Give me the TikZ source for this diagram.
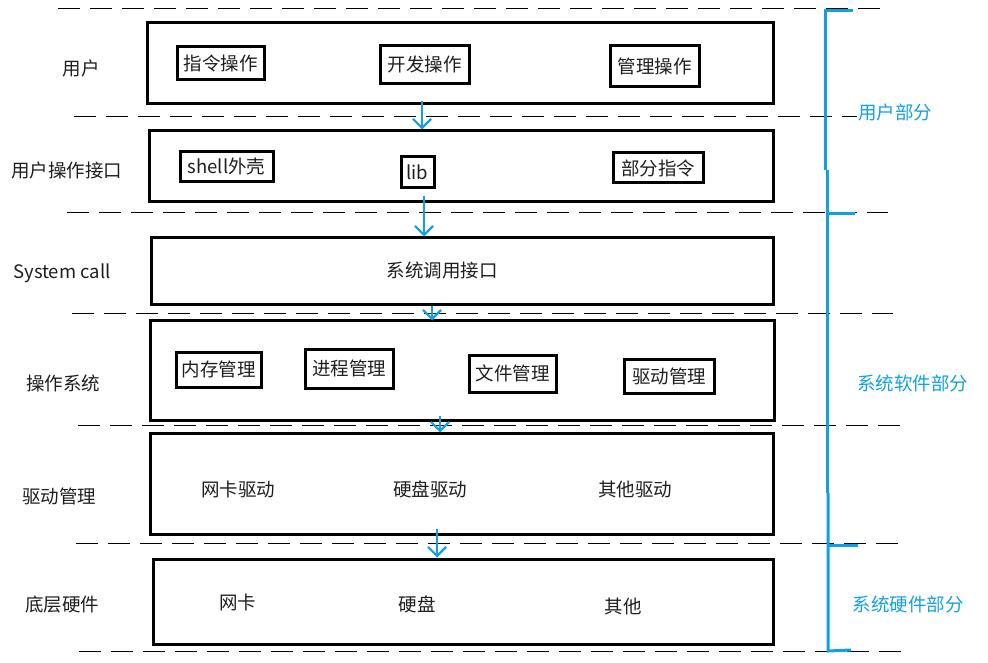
\documentclass[tikz,border=0pt]{standalone}
\usepackage{fontspec}
\setmainfont{Noto Sans CJK SC}
\usetikzlibrary{arrows.meta}
\definecolor{myblue}{RGB}{18,160,228}
\definecolor{txt}{RGB}{30,30,30}
\begin{document}
\begin{tikzpicture}[x=1pt,y=-1pt,
  layer/.style={draw, line width=3pt, inner sep=0pt},
  subbox/.style={draw, line width=3pt, inner sep=0pt, text=txt, font=\fontsize{18.5}{22}\selectfont},
  lbl/.style={text=txt, font=\fontsize{18.5}{22}\selectfont, inner sep=0pt},
  bluelbl/.style={text=myblue, font=\fontsize{18.5}{22}\selectfont, inner sep=0pt},
  sep/.style={line width=1pt, dash pattern=on 22pt off 10pt},
  arr/.style={myblue, line width=2.2pt, -{Straight Barb[length=9pt,width=18pt,line width=2.2pt]}},
  brk/.style={myblue, line width=3pt}]
\useasboundingbox (0,0) rectangle (988,663);

% separators
\draw[sep] (58,9) -- (880,9);
\draw[sep] (74,117) -- (857,117);
\draw[sep] (67,213) -- (888,213);
\draw[sep] (72,313) -- (893,313);
\draw[sep] (78,425) -- (900,425);
\draw[sep] (76,543) -- (898,543);
\draw[sep] (79,651) -- (902,651);

% layers
\node[layer, minimum width=626pt, minimum height=81pt] (L1) at (460,63.5) {};
\node[layer, minimum width=624pt, minimum height=71pt] (L2) at (461,166.5) {};
\node[layer, minimum width=622pt, minimum height=66pt] (L3) at (462,271) {};
\node[layer, minimum width=624pt, minimum height=100pt] (L4) at (462,370) {};
\node[layer, minimum width=623pt, minimum height=101pt] (L5) at (461.5,483.5) {};
\node[layer, minimum width=620pt, minimum height=85pt] (L6) at (463,601.5) {};

% left labels
\node[lbl] (t1) at (81,68) {用户};
\node[lbl] (t2) at (67,170) {用户操作接口};
\node[lbl] (t3) at (62,273) {System call};
\node[lbl] (t4) at (63,383) {操作系统};
\node[lbl] (t5) at (59,496) {驱动管理};
\node[lbl] (t6) at (62,605) {底层硬件};

% layer 1
\node[subbox, minimum width=87pt, minimum height=33pt] (s11) at (220.5,63.5) {指令操作};
\node[subbox, minimum width=89pt, minimum height=38pt] (s12) at (424.5,64.5) {开发操作};
\node[subbox, minimum width=89pt, minimum height=41pt] (s13) at (654.5,66.5) {管理操作};
% layer 2
\node[subbox, minimum width=93pt, minimum height=30pt] (s21) at (226.5,167) {shell外壳};
\node[subbox, minimum width=33pt, minimum height=31pt] (s22) at (417.5,172.5) {lib};
\node[subbox, minimum width=90pt, minimum height=30pt] (s23) at (658,168) {部分指令};
% layer 3
\node[lbl] (s31) at (442,270) {系统调用接口};
% layer 4
\node[subbox, minimum width=85pt, minimum height=35pt] (s41) at (218.5,369.5) {内存管理};
\node[subbox, minimum width=88pt, minimum height=39pt] (s42) at (349,368.5) {进程管理};
\node[subbox, minimum width=87pt, minimum height=37pt] (s43) at (512.5,373.5) {文件管理};
\node[subbox, minimum width=90pt, minimum height=34pt] (s44) at (669,376) {驱动管理};
% layer 5
\node[lbl] (s51) at (238,489) {网卡驱动};
\node[lbl] (s52) at (430,489) {硬盘驱动};
\node[lbl] (s53) at (635,489) {其他驱动};
% layer 6
\node[lbl] (s61) at (237.5,602) {网卡};
\node[lbl] (s62) at (417,604) {硬盘};
\node[lbl] (s63) at (623,606) {其他};

% arrows
\coordinate (a1) at (422,101);
\coordinate (a2) at (424,196);
\coordinate (a3) at (432,306);
\coordinate (a4) at (440,416);
\coordinate (a5) at (437,529);
\draw[arr] (a1) -- (a1 |- L2.north);
\draw[arr] (a2) -- (a2 |- L3.north);
\draw[arr] (a3) -- ([yshift=-2pt]a3 |- L4.north);
\draw[arr] (a4) -- ([yshift=-1pt]a4 |- L5.north);
\draw[arr] (a5) -- (a5 |- L6.north);

% bracket
\draw[brk] (853,11) -- (825,11) -- (825,170);
\draw[brk] (827,170) -- (827,214) -- (855,214);
\draw[brk] (827,214) -- (827,493);
\draw[brk] (828,493) -- (828,651) -- (851,650);
\draw[brk] (828,545) -- (858,545);

\node[bluelbl] (g1) at (895,112) {用户部分};
\node[bluelbl] (g2) at (912.5,383) {系统软件部分};
\node[bluelbl] (g3) at (908,604) {系统硬件部分};
\end{tikzpicture}
\end{document}
